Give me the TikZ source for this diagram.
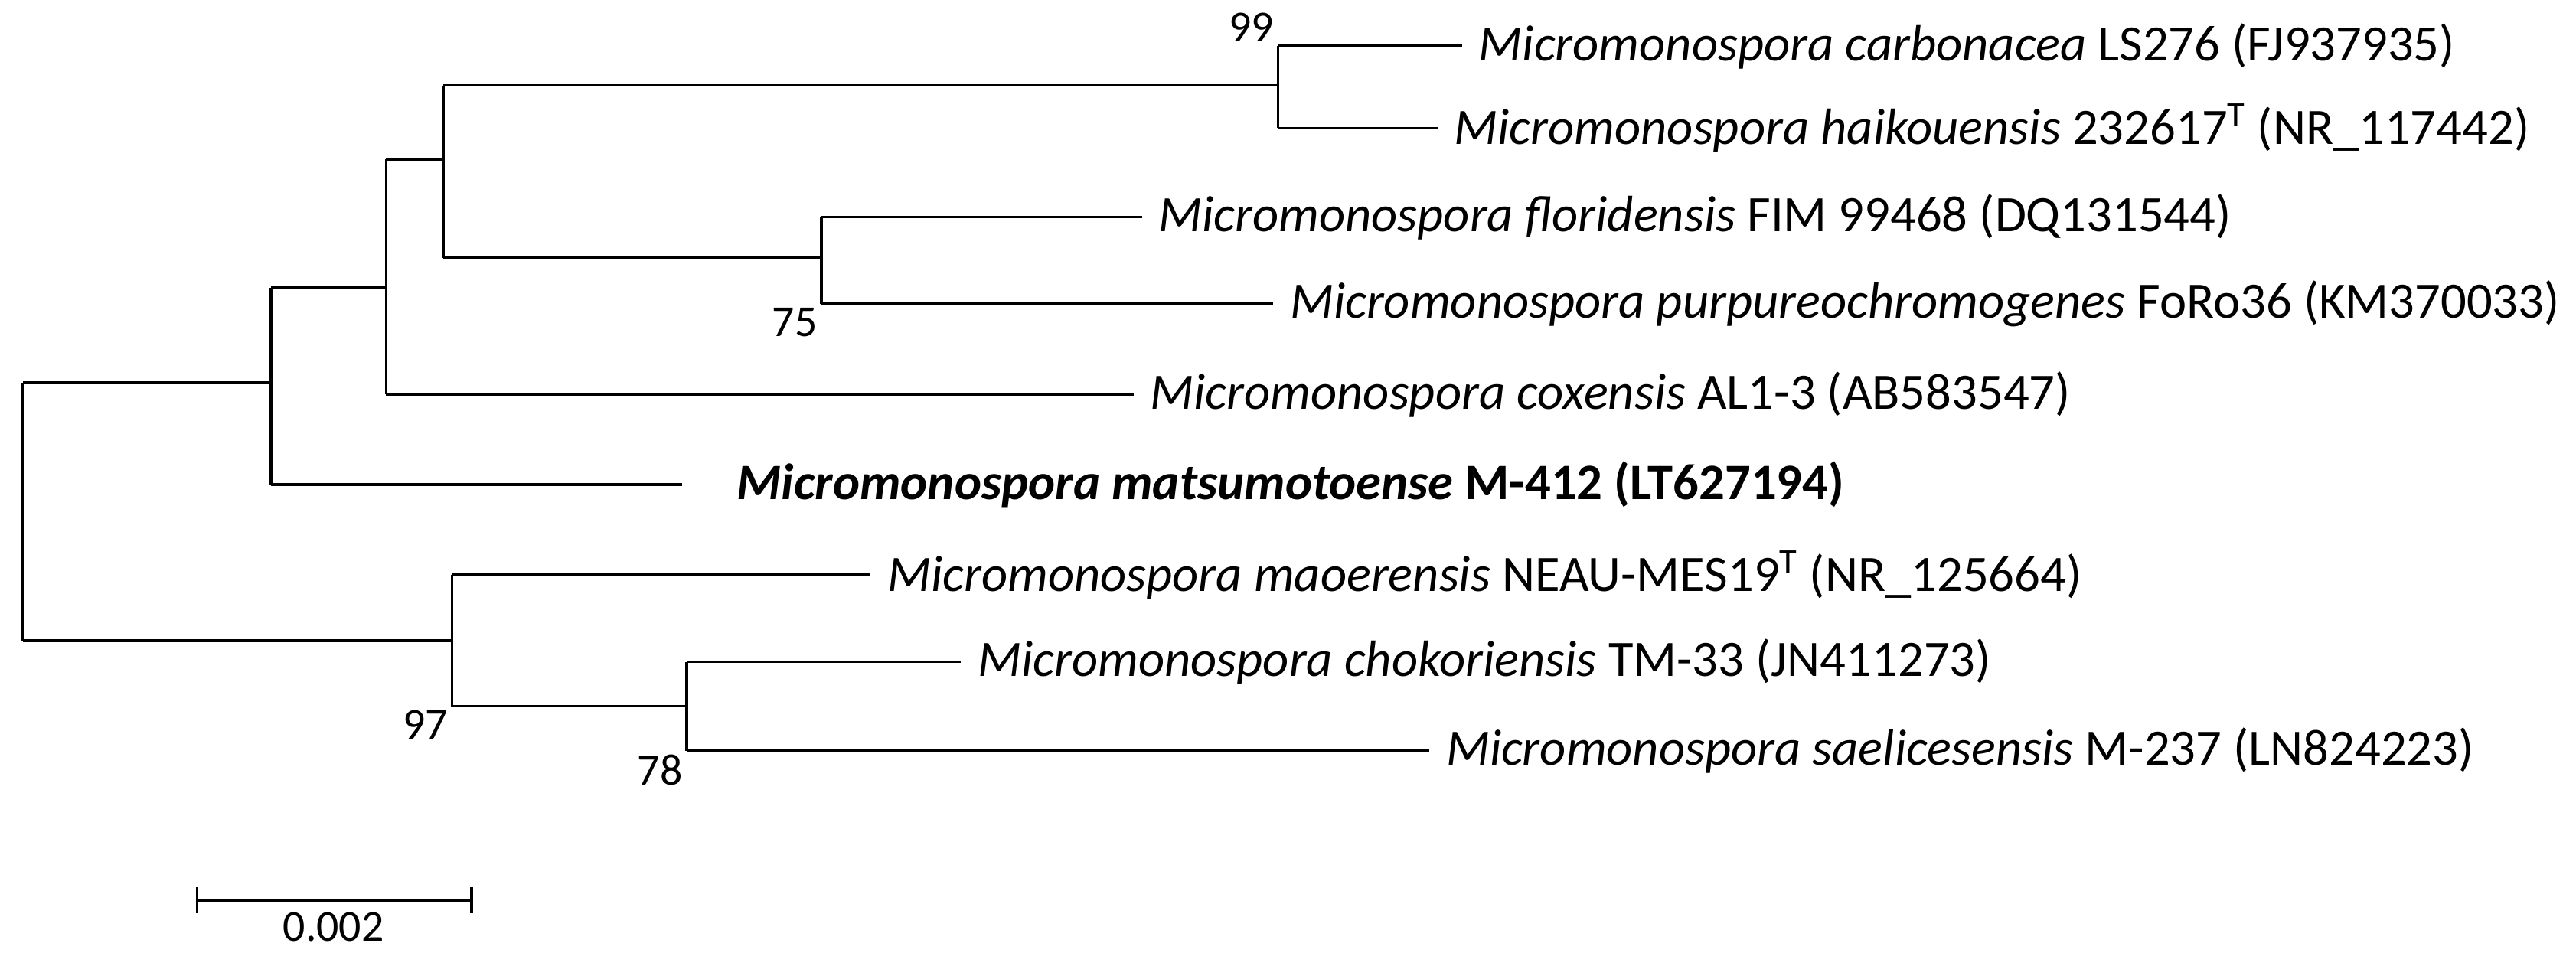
\documentclass[tikz,border=0pt]{standalone}
\usepackage{fontspec}
\setmainfont{Carlito}
\begin{document}
\begin{tikzpicture}[x={(0.3mm,0)},y={(0,-0.3mm)},
  br/.style={line width=1.3pt},
  lf/.style={anchor=west,font=\fontsize{26.5}{30}\selectfont,inner sep=0pt},
  bs/.style={anchor=south east,font=\fontsize{23}{26}\selectfont,inner sep=2pt},
  bn/.style={anchor=north east,font=\fontsize{23}{26}\selectfont,inner sep=2pt}]
\useasboundingbox (0,0) rectangle (1568,580);
\coordinate (R1) at (14,233); \coordinate (R2) at (14,390);
\coordinate (A) at (165,233); \coordinate (A1) at (165,175); \coordinate (A2) at (165,295);
\coordinate (B) at (235,175); \coordinate (B1) at (235,97); \coordinate (B2) at (235,240);
\coordinate (C) at (270,97); \coordinate (C1) at (270,52); \coordinate (C2) at (270,157);
\coordinate (D) at (778,52); \coordinate (D1) at (778,28); \coordinate (D2) at (778,78);
\coordinate (E) at (500,157); \coordinate (E1) at (500,132); \coordinate (E2) at (500,185);
\coordinate (F) at (275,390); \coordinate (F1) at (275,350); \coordinate (F2) at (275,430);
\coordinate (G) at (418,430); \coordinate (G1) at (418,403); \coordinate (G2) at (418,457);
\coordinate (l1) at (890,28); \coordinate (l2) at (875,78);
\coordinate (l3) at (695,132); \coordinate (l4) at (775,185);
\coordinate (l5) at (690,240); \coordinate (l6) at (415,295);
\coordinate (l7) at (530,350); \coordinate (l8) at (585,403); \coordinate (l9) at (870,457);
\draw[br] (R1) -- (R2); \draw[br] (R1) -- (A); \draw[br] (R2) -- (F);
\draw[br] (A1) -- (A2); \draw[br] (A1) -- (B); \draw[br] (A2) -- (l6);
\draw[br] (B1) -- (B2); \draw[br] (B1) -- (C); \draw[br] (B2) -- (l5);
\draw[br] (C1) -- (C2); \draw[br] (C1) -- (D); \draw[br] (C2) -- (E);
\draw[br] (D1) -- (D2); \draw[br] (D1) -- (l1); \draw[br] (D2) -- (l2);
\draw[br] (E1) -- (E2); \draw[br] (E1) -- (l3); \draw[br] (E2) -- (l4);
\draw[br] (F1) -- (F2); \draw[br] (F1) -- (l7); \draw[br] (F2) -- (G);
\draw[br] (G1) -- (G2); \draw[br] (G1) -- (l8); \draw[br] (G2) -- (l9);
\node[lf] (t1) at ([xshift=3mm]l1) {\textit{Micromonospora carbonacea} LS276 (FJ937935)};
\node[lf] (t2) at ([xshift=3mm]l2) {\textit{Micromonospora haikouensis} 232617\textsuperscript{T} (NR\_117442)};
\node[lf] (t3) at ([xshift=3mm]l3) {\textit{Micromonospora floridensis} FIM 99468 (DQ131544)};
\node[lf] (t4) at ([xshift=3mm]l4) {\textit{Micromonospora purpureochromogenes} FoRo36 (KM370033)};
\node[lf] (t5) at ([xshift=3mm]l5) {\textit{Micromonospora coxensis} AL1-3 (AB583547)};
\node[lf] (t6) at ([xshift=10mm]l6) {\textbf{\textit{Micromonospora matsumotoense} M-412 (LT627194)}};
\node[lf] (t7) at ([xshift=3mm]l7) {\textit{Micromonospora maoerensis} NEAU-MES19\textsuperscript{T} (NR\_125664)};
\node[lf] (t8) at ([xshift=3mm]l8) {\textit{Micromonospora chokoriensis} TM-33 (JN411273)};
\node[lf] (t9) at ([xshift=3mm]l9) {\textit{Micromonospora saelicesensis} M-237 (LN824223)};
\node[bs] (b99) at (D1) {99};
\node[bn] (b75) at (E2) {75};
\node[bn] (b97) at (F2) {97};
\node[bn] (b78) at (G2) {78};
\coordinate (s1) at (120,548); \coordinate (s2) at (287,548);
\draw[br] (s1) -- (s2);
\draw[br] ([yshift=-2.4mm]s1) -- ([yshift=2.4mm]s1);
\draw[br] ([yshift=-2.4mm]s2) -- ([yshift=2.4mm]s2);
\node[font=\fontsize{23}{26}\selectfont,anchor=north,inner sep=0pt] (sl) at (203,555) {0.002};
\end{tikzpicture}
\end{document}
